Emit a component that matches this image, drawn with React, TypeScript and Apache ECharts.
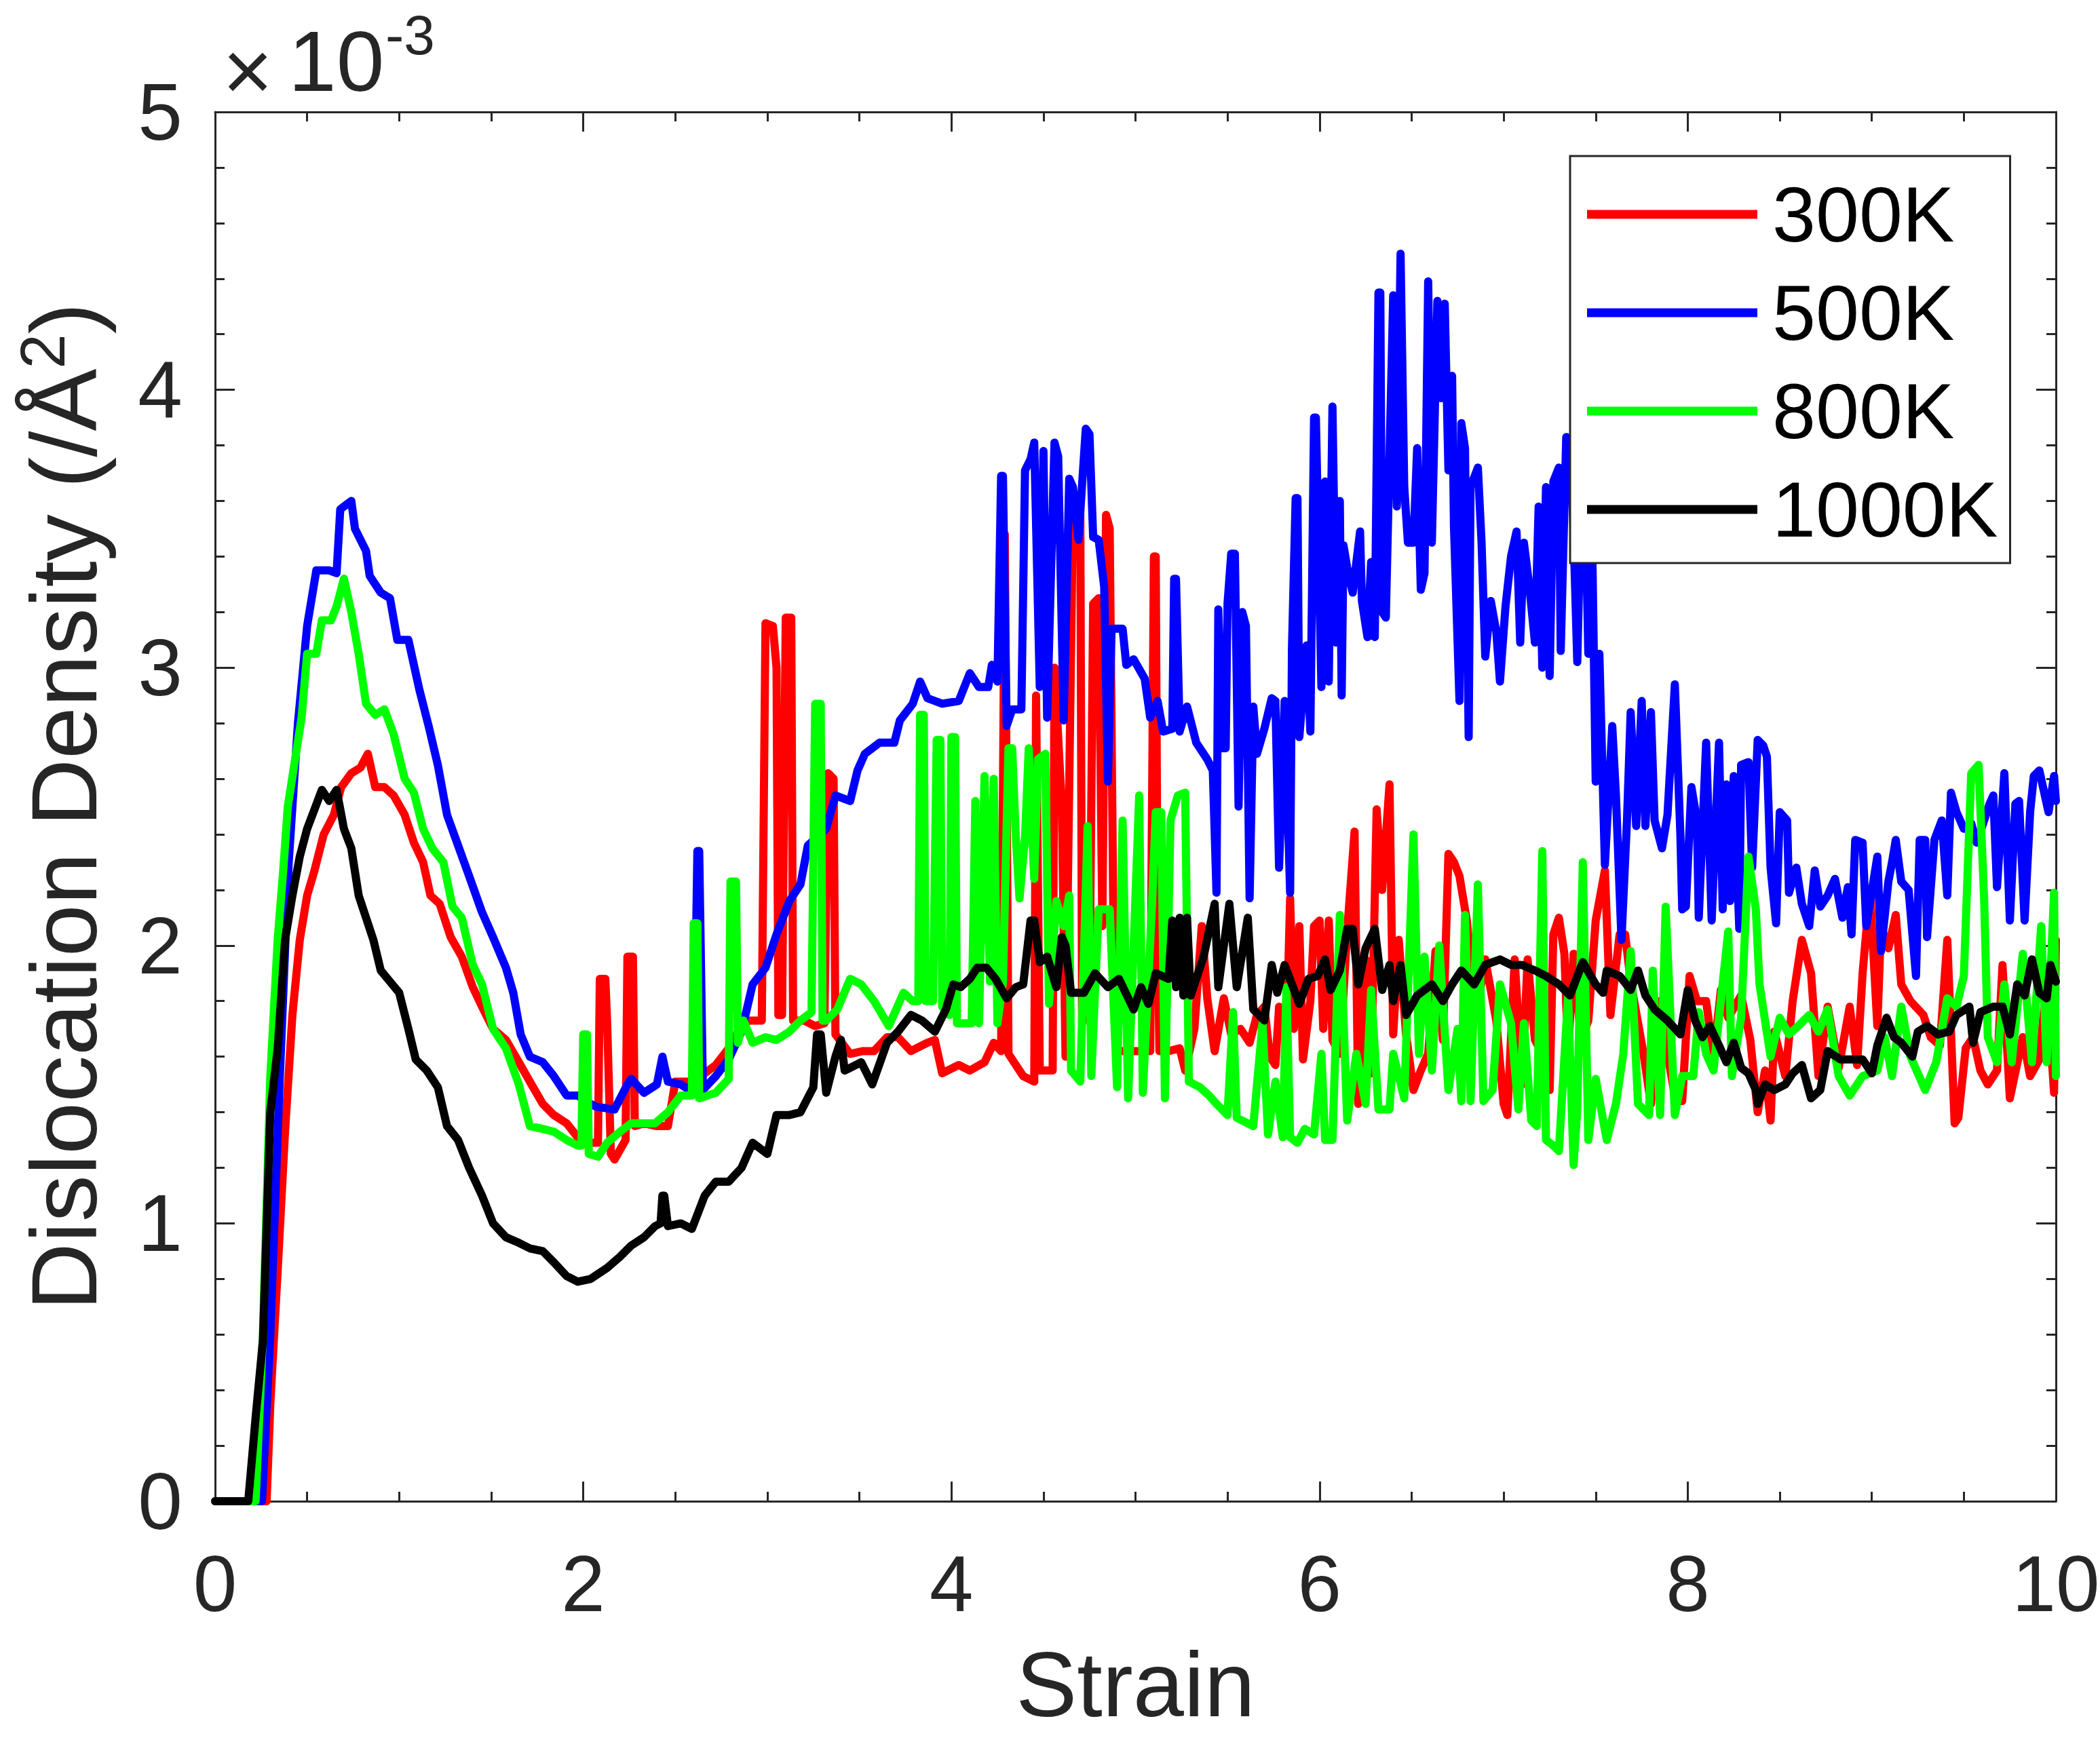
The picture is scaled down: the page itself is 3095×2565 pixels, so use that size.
import React, { useEffect, useRef } from "react";
import * as echarts from "echarts";

const FONT = '"Liberation Sans", Arial, Helvetica, sans-serif';
const AXIS_COLOR = "#262626";

const seriesNames = ["300K", "500K", "800K", "1000K"];
const seriesColors = ["#FF0000", "#0000FF", "#00FF00", "#000000"];

const xTickLabels = ["0", "2", "4", "6", "8", "10"];
const yTickLabels = ["0", "1", "2", "3", "4", "5"];

// Strain vs dislocation density (x10^-3 /Å^2)
const rho300K: number[][] = [
  [0, 0], [0.28, 0], [0.3, 0.35], [0.34, 0.83], [0.38, 1.33], [0.42, 1.75], [0.46, 2.02], [0.5, 2.18], [0.54, 2.27], [0.59, 2.4],
  [0.645, 2.47], [0.685, 2.57], [0.74, 2.62], [0.79, 2.64], [0.83, 2.69], [0.87, 2.57], [0.92, 2.57], [0.97, 2.54], [1.03, 2.47], [1.08, 2.37],
  [1.13, 2.3], [1.17, 2.18], [1.22, 2.15], [1.28, 2.03], [1.34, 1.96], [1.4, 1.85], [1.45, 1.78], [1.51, 1.7], [1.58, 1.66], [1.65, 1.58],
  [1.71, 1.51], [1.78, 1.43], [1.84, 1.39], [1.91, 1.36], [1.97, 1.31], [2.04, 1.29], [2.08, 1.29], [2.09, 1.88], [2.12, 1.88], [2.13, 1.72],
  [2.15, 1.25], [2.17, 1.23], [2.23, 1.3], [2.24, 1.96], [2.27, 1.96], [2.28, 1.35], [2.33, 1.36], [2.4, 1.35], [2.46, 1.35], [2.5, 1.51],
  [2.59, 1.51], [2.66, 1.54], [2.72, 1.57], [2.79, 1.63], [2.85, 1.7], [2.9, 1.73], [2.97, 1.73], [2.99, 3.16], [3.03, 3.15], [3.05, 3.0],
  [3.06, 1.75], [3.08, 1.75], [3.1, 3.18], [3.13, 3.18], [3.14, 1.73], [3.2, 1.73], [3.26, 1.71], [3.31, 1.72], [3.33, 2.62], [3.36, 2.6],
  [3.37, 1.68], [3.45, 1.61], [3.52, 1.62], [3.58, 1.62], [3.65, 1.67], [3.71, 1.67], [3.78, 1.62], [3.87, 1.65], [3.91, 1.66], [3.95, 1.54],
  [4.04, 1.57], [4.1, 1.55], [4.18, 1.58], [4.23, 1.65], [4.27, 1.62], [4.29, 3.48], [4.31, 1.61], [4.39, 1.53], [4.45, 1.51], [4.46, 2.9],
  [4.48, 1.55], [4.55, 1.55], [4.56, 3.0], [4.6, 2.5], [4.62, 1.6], [4.66, 3.55], [4.7, 3.59], [4.71, 1.72], [4.75, 1.8], [4.77, 3.23],
  [4.8, 3.25], [4.82, 2.07], [4.84, 3.55], [4.86, 3.5], [4.88, 2.07], [4.9, 1.62], [5.0, 1.62], [5.08, 1.62], [5.1, 3.4], [5.11, 3.4],
  [5.12, 2.07], [5.13, 1.62], [5.18, 1.62], [5.24, 1.63], [5.27, 1.55], [5.32, 1.7], [5.36, 2.07], [5.39, 1.81], [5.43, 1.62], [5.48, 1.81],
  [5.52, 1.68], [5.57, 1.7], [5.62, 1.65], [5.66, 1.75], [5.7, 1.78], [5.73, 1.6], [5.76, 1.57], [5.78, 1.78], [5.82, 1.65], [5.84, 2.17],
  [5.86, 1.7], [5.89, 2.07], [5.91, 1.59], [5.95, 1.8], [5.97, 2.07], [6.0, 2.09], [6.02, 1.7], [6.05, 2.09], [6.07, 1.66], [6.11, 1.61],
  [6.15, 2.05], [6.19, 2.41], [6.21, 1.43], [6.25, 1.95], [6.28, 1.54], [6.31, 2.49], [6.34, 2.2], [6.38, 2.58], [6.4, 1.68], [6.43, 2.02],
  [6.47, 1.68], [6.51, 1.48], [6.55, 1.55], [6.59, 1.61], [6.63, 1.98], [6.67, 1.66], [6.7, 2.33], [6.73, 2.3], [6.76, 2.25], [6.8, 2.09],
  [6.85, 1.75], [6.9, 1.95], [6.96, 1.73], [7.0, 1.43], [7.02, 1.39], [7.06, 1.95], [7.1, 1.5], [7.13, 1.95], [7.17, 1.66], [7.21, 1.61],
  [7.25, 1.48], [7.27, 2.04], [7.3, 2.1], [7.33, 1.97], [7.35, 1.61], [7.38, 1.97], [7.42, 1.66], [7.46, 1.73], [7.5, 2.09], [7.55, 2.27],
  [7.58, 1.75], [7.63, 2.04], [7.66, 2.04], [7.69, 1.87], [7.76, 1.61], [7.8, 1.43], [7.85, 1.8], [7.89, 1.61], [7.93, 1.46], [7.97, 1.44],
  [8.01, 1.89], [8.05, 1.8], [8.1, 1.8], [8.14, 1.6], [8.18, 1.84], [8.22, 1.74], [8.29, 1.82], [8.34, 1.66], [8.38, 1.4], [8.42, 1.55],
  [8.45, 1.37], [8.47, 1.69], [8.53, 1.53], [8.57, 1.8], [8.62, 2.02], [8.67, 1.9], [8.71, 1.53], [8.76, 1.78], [8.82, 1.56], [8.88, 1.78],
  [8.92, 1.57], [8.95, 1.9], [8.99, 2.2], [9.03, 1.71], [9.05, 2.07], [9.09, 1.99], [9.13, 2.11], [9.16, 1.86], [9.21, 1.8], [9.28, 1.75],
  [9.32, 1.67], [9.37, 1.64], [9.41, 2.02], [9.45, 1.36], [9.47, 1.38], [9.51, 1.63], [9.55, 1.67], [9.59, 1.55], [9.63, 1.5], [9.68, 1.55],
  [9.71, 1.93], [9.75, 1.45], [9.82, 1.67], [9.86, 1.53], [9.91, 1.59], [9.95, 1.87], [9.99, 1.47], [10.0, 2.02],
];

const rho500K: number[][] = [
  [0, 0], [0.255, 0], [0.3, 0.6], [0.35, 1.5], [0.4, 2.3], [0.45, 2.8], [0.5, 3.15], [0.55, 3.35], [0.62, 3.35], [0.66, 3.34],
  [0.68, 3.57], [0.74, 3.6], [0.76, 3.5], [0.82, 3.42], [0.84, 3.33], [0.9, 3.27], [0.95, 3.25], [0.99, 3.1], [1.05, 3.1], [1.11, 2.92],
  [1.16, 2.79], [1.21, 2.65], [1.26, 2.47], [1.32, 2.36], [1.38, 2.25], [1.45, 2.12], [1.51, 2.03], [1.58, 1.92], [1.62, 1.83], [1.66, 1.68],
  [1.71, 1.6], [1.78, 1.58], [1.84, 1.53], [1.91, 1.46], [1.97, 1.46], [2.04, 1.43], [2.07, 1.42], [2.17, 1.41], [2.24, 1.5], [2.26, 1.52],
  [2.33, 1.47], [2.4, 1.5], [2.43, 1.6], [2.46, 1.51], [2.53, 1.5], [2.6, 1.47], [2.62, 2.34], [2.63, 2.34], [2.65, 1.48], [2.72, 1.53],
  [2.79, 1.59], [2.86, 1.69], [2.92, 1.86], [2.99, 1.92], [3.05, 2.04], [3.12, 2.16], [3.18, 2.22], [3.22, 2.36], [3.32, 2.42], [3.37, 2.54],
  [3.45, 2.52], [3.49, 2.63], [3.53, 2.69], [3.61, 2.73], [3.69, 2.73], [3.72, 2.81], [3.79, 2.87], [3.83, 2.95], [3.87, 2.89], [3.95, 2.87],
  [4.04, 2.88], [4.1, 2.98], [4.15, 2.93], [4.2, 2.93], [4.22, 3.01], [4.25, 2.95], [4.27, 3.69], [4.28, 3.69], [4.3, 2.79], [4.33, 2.85],
  [4.38, 2.85], [4.4, 3.71], [4.43, 3.75], [4.45, 3.81], [4.48, 2.93], [4.5, 3.78], [4.52, 2.82], [4.56, 3.81], [4.58, 3.76], [4.61, 2.81],
  [4.64, 3.68], [4.66, 3.65], [4.69, 3.46], [4.73, 3.86], [4.75, 3.84], [4.77, 3.47], [4.8, 3.46], [4.83, 3.29], [4.85, 2.59], [4.87, 3.14],
  [4.93, 3.14], [4.95, 3.01], [4.99, 3.03], [5.05, 2.96], [5.08, 2.82], [5.12, 2.88], [5.15, 2.77], [5.2, 2.78], [5.21, 3.32], [5.22, 3.32],
  [5.24, 2.77], [5.28, 2.86], [5.33, 2.73], [5.39, 2.67], [5.42, 2.63], [5.44, 2.19], [5.45, 3.21], [5.47, 2.71], [5.49, 2.71], [5.5, 3.23],
  [5.52, 3.41], [5.54, 3.41], [5.56, 2.5], [5.58, 3.2], [5.6, 3.15], [5.62, 2.17], [5.64, 2.86], [5.66, 2.69], [5.7, 2.78], [5.74, 2.89],
  [5.76, 2.88], [5.78, 2.28], [5.81, 2.88], [5.84, 2.19], [5.85, 3.07], [5.87, 3.61], [5.88, 3.61], [5.89, 2.75], [5.93, 3.08], [5.95, 2.77],
  [5.97, 3.9], [5.98, 3.9], [6.01, 2.93], [6.03, 3.67], [6.05, 2.95], [6.07, 3.94], [6.09, 3.09], [6.11, 3.6], [6.12, 2.9], [6.13, 3.44],
  [6.15, 3.36], [6.18, 3.27], [6.22, 3.49], [6.23, 3.24], [6.26, 3.11], [6.28, 3.38], [6.3, 3.11], [6.32, 4.35], [6.33, 4.35], [6.34, 3.2],
  [6.36, 3.18], [6.4, 4.34], [6.42, 3.58], [6.44, 4.49], [6.46, 3.65], [6.48, 3.45], [6.51, 3.45], [6.53, 3.79], [6.55, 3.28], [6.57, 3.34],
  [6.59, 4.39], [6.61, 3.45], [6.64, 4.32], [6.66, 3.97], [6.68, 4.31], [6.7, 3.71], [6.72, 4.05], [6.73, 3.51], [6.76, 2.88], [6.77, 3.88],
  [6.79, 3.79], [6.81, 2.75], [6.82, 3.65], [6.86, 3.72], [6.88, 3.45], [6.9, 3.04], [6.93, 3.24], [6.96, 3.13], [6.98, 2.95], [7.01, 3.22],
  [7.04, 3.4], [7.07, 3.49], [7.09, 3.09], [7.11, 3.45], [7.14, 3.29], [7.17, 3.09], [7.19, 3.58], [7.21, 3.0], [7.23, 3.65], [7.25, 2.97],
  [7.27, 3.67], [7.3, 3.72], [7.31, 3.06], [7.34, 3.83], [7.37, 3.7], [7.4, 3.02], [7.42, 3.6], [7.44, 3.7], [7.46, 3.05], [7.48, 3.5],
  [7.5, 2.59], [7.52, 3.05], [7.55, 2.29], [7.59, 2.79], [7.61, 2.54], [7.64, 2.02], [7.67, 2.45], [7.69, 2.84], [7.72, 2.43], [7.75, 2.88],
  [7.77, 2.43], [7.8, 2.84], [7.82, 2.45], [7.86, 2.35], [7.89, 2.47], [7.93, 2.94], [7.96, 2.4], [7.97, 2.13], [7.99, 2.14], [8.02, 2.57],
  [8.05, 2.45], [8.06, 2.1], [8.1, 2.73], [8.13, 2.09], [8.17, 2.73], [8.19, 2.13], [8.21, 2.58], [8.23, 2.16], [8.25, 2.61], [8.28, 2.06],
  [8.29, 2.65], [8.33, 2.66], [8.35, 2.28], [8.38, 2.74], [8.41, 2.72], [8.43, 2.68], [8.45, 2.28], [8.48, 2.08], [8.5, 2.48], [8.54, 2.45],
  [8.55, 2.19], [8.59, 2.28], [8.62, 2.15], [8.66, 2.07], [8.69, 2.27], [8.72, 2.14], [8.76, 2.18], [8.8, 2.24], [8.84, 2.1], [8.87, 2.21],
  [8.89, 2.04], [8.91, 2.38], [8.95, 2.37], [8.97, 2.07], [9.03, 2.32], [9.05, 1.98], [9.09, 2.23], [9.11, 2.3], [9.13, 2.38], [9.16, 2.23],
  [9.2, 2.2], [9.24, 1.89], [9.26, 2.38], [9.29, 2.38], [9.3, 2.03], [9.34, 2.38], [9.38, 2.45], [9.41, 2.18], [9.43, 2.55], [9.46, 2.48],
  [9.5, 2.42], [9.54, 2.44], [9.57, 2.37], [9.61, 2.45], [9.64, 2.51], [9.66, 2.54], [9.68, 2.21], [9.72, 2.62], [9.75, 2.09], [9.78, 2.51],
  [9.8, 2.52], [9.83, 2.09], [9.86, 2.48], [9.88, 2.61], [9.91, 2.63], [9.94, 2.54], [9.96, 2.48], [9.99, 2.61], [10.0, 2.52],
];

const rho800K: number[][] = [
  [0, 0], [0.22, 0], [0.26, 0.6], [0.3, 1.53], [0.34, 2.02], [0.37, 2.27], [0.395, 2.5], [0.43, 2.65], [0.47, 2.82], [0.5, 3.05],
  [0.55, 3.05], [0.58, 3.17], [0.63, 3.17], [0.66, 3.22], [0.7, 3.32], [0.74, 3.2], [0.78, 3.05], [0.82, 2.87], [0.87, 2.83], [0.92, 2.85],
  [0.97, 2.76], [1.03, 2.6], [1.08, 2.55], [1.13, 2.42], [1.18, 2.35], [1.24, 2.3], [1.29, 2.14], [1.34, 2.1], [1.4, 1.93], [1.45, 1.86],
  [1.51, 1.7], [1.58, 1.63], [1.65, 1.5], [1.71, 1.35], [1.78, 1.34], [1.84, 1.33], [1.91, 1.3], [1.97, 1.28], [1.99, 1.28], [2.0, 1.68],
  [2.02, 1.68], [2.03, 1.25], [2.08, 1.24], [2.13, 1.29], [2.2, 1.33], [2.26, 1.36], [2.39, 1.36], [2.46, 1.4], [2.53, 1.46], [2.59, 1.46],
  [2.6, 2.08], [2.62, 2.08], [2.63, 1.45], [2.72, 1.47], [2.79, 1.52], [2.8, 2.23], [2.83, 2.23], [2.84, 1.65], [2.87, 1.73], [2.92, 1.65],
  [2.99, 1.67], [3.05, 1.66], [3.12, 1.69], [3.18, 1.73], [3.24, 1.76], [3.26, 2.87], [3.29, 2.87], [3.3, 1.73], [3.32, 1.73], [3.38, 1.77],
  [3.45, 1.88], [3.51, 1.86], [3.58, 1.8], [3.66, 1.71], [3.74, 1.83], [3.79, 1.8], [3.82, 1.8], [3.83, 2.83], [3.85, 2.83], [3.86, 1.8],
  [3.9, 1.8], [3.92, 2.74], [3.94, 2.74], [3.95, 1.78], [3.99, 1.75], [4.0, 2.75], [4.02, 2.75], [4.03, 1.72], [4.11, 1.72], [4.13, 2.52],
  [4.15, 1.72], [4.18, 2.61], [4.21, 1.87], [4.23, 2.6], [4.25, 1.72], [4.28, 1.87], [4.31, 2.71], [4.33, 2.71], [4.35, 2.39], [4.37, 2.17],
  [4.4, 2.39], [4.42, 2.71], [4.45, 2.24], [4.47, 2.67], [4.51, 2.69], [4.53, 1.79], [4.57, 2.16], [4.61, 2.07], [4.64, 2.18], [4.65, 1.55],
  [4.7, 1.51], [4.74, 2.43], [4.76, 1.53], [4.8, 2.13], [4.86, 2.13], [4.9, 1.49], [4.93, 2.45], [4.96, 1.45], [5.02, 2.54], [5.04, 1.47],
  [5.09, 2.15], [5.11, 2.48], [5.14, 2.48], [5.16, 1.45], [5.19, 2.45], [5.23, 2.54], [5.27, 2.55], [5.29, 1.51], [5.35, 1.49], [5.4, 1.46],
  [5.44, 1.43], [5.5, 1.39], [5.53, 1.76], [5.55, 1.38], [5.64, 1.35], [5.69, 1.72], [5.72, 1.32], [5.76, 1.51], [5.8, 1.31], [5.82, 1.85],
  [5.84, 1.31], [5.88, 1.29], [5.92, 1.34], [5.97, 1.32], [6.01, 1.61], [6.03, 1.3], [6.07, 1.3], [6.11, 2.11], [6.15, 1.37], [6.2, 1.61],
  [6.25, 1.43], [6.28, 1.84], [6.32, 1.41], [6.38, 1.41], [6.4, 1.61], [6.46, 1.45], [6.51, 2.4], [6.54, 1.61], [6.57, 1.96], [6.61, 1.55],
  [6.65, 2.0], [6.7, 1.48], [6.75, 1.7], [6.77, 1.44], [6.79, 2.11], [6.82, 1.44], [6.86, 2.22], [6.89, 1.44], [6.94, 1.48], [6.98, 1.86],
  [7.04, 1.72], [7.08, 1.41], [7.11, 1.72], [7.15, 1.37], [7.18, 1.35], [7.21, 2.34], [7.23, 1.3], [7.27, 1.28], [7.3, 1.26], [7.35, 1.82],
  [7.38, 1.21], [7.4, 1.41], [7.43, 2.3], [7.46, 1.3], [7.5, 1.52], [7.56, 1.3], [7.61, 1.43], [7.65, 1.61], [7.69, 1.98], [7.73, 1.43],
  [7.79, 1.39], [7.81, 1.91], [7.85, 1.39], [7.88, 2.14], [7.93, 1.39], [7.97, 1.53], [8.03, 1.53], [8.06, 1.76], [8.1, 1.61], [8.14, 1.55],
  [8.17, 1.74], [8.22, 2.05], [8.24, 1.53], [8.29, 1.74], [8.33, 2.32], [8.37, 2.13], [8.39, 1.86], [8.45, 1.6], [8.5, 1.74], [8.55, 1.68],
  [8.6, 1.71], [8.66, 1.75], [8.71, 1.69], [8.76, 1.77], [8.82, 1.53], [8.88, 1.46], [8.95, 1.53], [9.03, 1.55], [9.07, 1.67], [9.11, 1.53],
  [9.16, 1.78], [9.21, 1.6], [9.29, 1.48], [9.35, 1.58], [9.41, 1.81], [9.46, 1.78], [9.5, 1.89], [9.54, 2.62], [9.58, 2.65], [9.61, 2.17],
  [9.63, 1.67], [9.68, 1.58], [9.72, 1.86], [9.76, 1.58], [9.82, 1.97], [9.87, 1.58], [9.92, 2.07], [9.95, 1.58], [9.99, 2.19], [10.0, 1.53],
];

const rho1000K: number[][] = [
  [0, 0], [0.18, 0], [0.22, 0.3], [0.26, 0.58], [0.3, 1.4], [0.34, 1.63], [0.38, 2.02], [0.42, 2.18], [0.46, 2.32], [0.5, 2.42],
  [0.54, 2.49], [0.58, 2.56], [0.62, 2.52], [0.66, 2.56], [0.7, 2.42], [0.74, 2.35], [0.78, 2.18], [0.82, 2.1], [0.86, 2.02], [0.9, 1.91],
  [0.95, 1.87], [1.0, 1.83], [1.05, 1.7], [1.09, 1.59], [1.15, 1.55], [1.21, 1.49], [1.26, 1.35], [1.32, 1.3], [1.38, 1.2], [1.45, 1.1],
  [1.51, 1.0], [1.58, 0.95], [1.65, 0.93], [1.71, 0.91], [1.78, 0.9], [1.84, 0.86], [1.91, 0.81], [1.97, 0.79], [2.04, 0.8], [2.13, 0.84],
  [2.2, 0.88], [2.26, 0.92], [2.33, 0.95], [2.39, 0.99], [2.42, 1.0], [2.43, 1.1], [2.44, 1.1], [2.46, 0.99], [2.53, 1.0], [2.59, 0.98],
  [2.66, 1.1], [2.72, 1.15], [2.79, 1.15], [2.86, 1.2], [2.92, 1.29], [3.0, 1.25], [3.05, 1.39], [3.12, 1.39], [3.18, 1.4], [3.25, 1.49],
  [3.27, 1.68], [3.29, 1.68], [3.32, 1.47], [3.37, 1.6], [3.4, 1.66], [3.42, 1.55], [3.45, 1.56], [3.51, 1.58], [3.57, 1.5], [3.65, 1.65],
  [3.71, 1.69], [3.78, 1.75], [3.84, 1.73], [3.91, 1.69], [3.97, 1.77], [4.01, 1.86], [4.05, 1.85], [4.1, 1.88], [4.14, 1.92], [4.19, 1.92],
  [4.24, 1.88], [4.3, 1.81], [4.35, 1.85], [4.39, 1.86], [4.43, 2.09], [4.45, 2.09], [4.48, 1.94], [4.52, 1.96], [4.57, 1.85], [4.6, 2.03],
  [4.62, 2.0], [4.65, 1.83], [4.72, 1.83], [4.78, 1.9], [4.85, 1.85], [4.91, 1.88], [4.99, 1.77], [5.03, 1.85], [5.07, 1.79], [5.11, 1.9],
  [5.18, 1.88], [5.2, 2.09], [5.22, 1.85], [5.24, 2.1], [5.26, 1.82], [5.28, 2.1], [5.3, 1.82], [5.35, 1.92], [5.37, 1.96], [5.43, 2.15],
  [5.45, 1.85], [5.51, 2.15], [5.55, 1.85], [5.61, 2.1], [5.64, 1.77], [5.7, 1.73], [5.74, 1.93], [5.77, 1.83], [5.81, 1.93], [5.89, 1.79],
  [5.94, 1.88], [5.99, 1.89], [6.03, 1.95], [6.06, 1.84], [6.11, 1.91], [6.15, 2.06], [6.18, 2.06], [6.21, 1.86], [6.25, 1.99], [6.3, 2.06],
  [6.34, 1.84], [6.38, 1.93], [6.4, 1.8], [6.44, 1.93], [6.47, 1.75], [6.53, 1.82], [6.61, 1.86], [6.67, 1.8], [6.72, 1.86], [6.77, 1.91],
  [6.84, 1.86], [6.9, 1.93], [6.98, 1.95], [7.04, 1.93], [7.1, 1.93], [7.17, 1.91], [7.23, 1.89], [7.3, 1.86], [7.36, 1.82], [7.43, 1.94],
  [7.5, 1.86], [7.54, 1.83], [7.56, 1.91], [7.63, 1.89], [7.69, 1.84], [7.73, 1.91], [7.77, 1.82], [7.82, 1.77], [7.89, 1.73], [7.96, 1.68],
  [8.0, 1.84], [8.04, 1.73], [8.08, 1.67], [8.12, 1.71], [8.17, 1.64], [8.21, 1.58], [8.25, 1.65], [8.29, 1.56], [8.33, 1.54], [8.37, 1.48],
  [8.38, 1.43], [8.42, 1.5], [8.47, 1.48], [8.53, 1.5], [8.57, 1.54], [8.62, 1.57], [8.67, 1.45], [8.72, 1.48], [8.76, 1.62], [8.83, 1.59],
  [8.89, 1.59], [8.95, 1.59], [9.0, 1.54], [9.03, 1.64], [9.08, 1.74], [9.12, 1.67], [9.16, 1.65], [9.22, 1.6], [9.25, 1.69], [9.3, 1.71],
  [9.36, 1.68], [9.42, 1.69], [9.46, 1.75], [9.53, 1.78], [9.55, 1.65], [9.59, 1.76], [9.66, 1.78], [9.71, 1.78], [9.75, 1.68], [9.79, 1.86],
  [9.83, 1.82], [9.87, 1.95], [9.91, 1.83], [9.95, 1.81], [9.97, 1.93], [10.0, 1.87],
];

const seriesData = [rho300K, rho500K, rho800K, rho1000K];

export default function App() {
  const ref = useRef<HTMLDivElement>(null);

  useEffect(() => {
    if (!ref.current) return;
    const chart = echarts.init(ref.current, null, { renderer: "svg" });

    const tickLine = { color: AXIS_COLOR, width: 3 };
    const baseX = {
      type: "value",
      min: 0,
      max: 10,
      interval: 2,
      splitLine: { show: false },
      axisLine: { show: true, onZero: false, lineStyle: tickLine },
      axisTick: { show: true, inside: true, length: 29, lineStyle: tickLine },
      minorTick: { show: true, splitNumber: 4, length: 14, lineStyle: tickLine },
    };
    const baseY = {
      type: "value",
      min: 0,
      max: 5,
      interval: 1,
      splitLine: { show: false },
      axisLine: { show: true, onZero: false, lineStyle: tickLine },
      axisTick: { show: true, inside: true, length: 29, lineStyle: tickLine },
      minorTick: { show: true, splitNumber: 5, length: 14, lineStyle: tickLine },
    };

    chart.setOption({
      animation: false,
      backgroundColor: "#ffffff",
      grid: { left: 317, right: 65, top: 165, bottom: 352, containLabel: false, outerBoundsMode: "none" },
      xAxis: [
        {
          ...baseX,
          position: "bottom",
          axisLabel: {
            fontSize: 116,
            fontFamily: FONT,
            color: AXIS_COLOR,
            margin: 64,
            formatter: (v: number) => xTickLabels[Math.round(v / 2)] ?? "",
          },
          name: "Strain",
          nameLocation: "middle",
          nameGap: 220,
          nameTextStyle: { fontSize: 135, lineHeight: 100, fontFamily: FONT, color: AXIS_COLOR },
        },
        { ...baseX, position: "top", axisLabel: { show: false } },
      ],
      yAxis: [
        {
          ...baseY,
          position: "left",
          axisLabel: {
            fontSize: 118,
            fontFamily: FONT,
            color: AXIS_COLOR,
            margin: 48,
            formatter: (v: number) => yTickLabels[Math.round(v)] ?? "",
          },
          name: "Dislocation Density (/Å{sup|2})",
          nameLocation: "middle",
          nameGap: 146,
          nameTextStyle: {
            fontSize: 138,
            fontFamily: FONT,
            color: AXIS_COLOR,
            rich: {
              sup: { fontSize: 92, fontFamily: FONT, color: AXIS_COLOR, verticalAlign: "bottom", padding: [0, 0, 62, 0] },
            },
          },
        },
        { ...baseY, position: "right", axisLabel: { show: false } },
      ],
      legend: {
        orient: "vertical",
        left: 2314,
        top: 230,
        data: seriesNames,
        selectedMode: false,
        icon: "rect",
        itemWidth: 251,
        itemHeight: 13,
        itemGap: 15,
        padding: [21, 18, 14, 25],
        backgroundColor: "#ffffff",
        borderColor: AXIS_COLOR,
        borderWidth: 3,
        borderRadius: 0,
        textStyle: { fontSize: 115, fontFamily: FONT, color: "#000000", lineHeight: 130, padding: [0, 0, 0, 17] },
      },
      graphic: [
        {
          type: "text",
          x: 365,
          y: 104,
          style: { text: "×", fontSize: 127, fontFamily: FONT, fill: AXIS_COLOR, textAlign: "center", textVerticalAlign: "middle" },
        },
        {
          type: "text",
          x: 425,
          y: 90,
          style: { text: "10", fontSize: 127, fontFamily: FONT, fill: AXIS_COLOR, textAlign: "left", textVerticalAlign: "middle" },
        },
        {
          type: "text",
          x: 568,
          y: 51,
          style: { text: "-3", fontSize: 82, fontFamily: FONT, fill: AXIS_COLOR, textAlign: "left", textVerticalAlign: "middle" },
        },
      ],
      series: seriesNames.map((name, i) => ({
        name,
        type: "line",
        data: seriesData[i],
        symbol: "none",
        showSymbol: false,
        clip: true,
        lineStyle: { width: 12, color: seriesColors[i], join: "round", cap: "round" },
        itemStyle: { color: seriesColors[i] },
        emphasis: { disabled: true },
      })),
    });

    return () => chart.dispose();
  }, []);

  return (
    <div
      ref={ref}
      style={{ position: "absolute", left: 0, top: 0, width: 3095, height: 2565, background: "#ffffff" }}
    />
  );
}
